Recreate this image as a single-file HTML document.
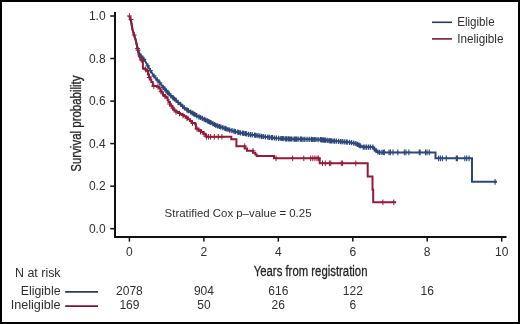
<!DOCTYPE html>
<html><head><meta charset="utf-8"><style>
html,body{margin:0;padding:0;background:#fff;}
body{width:520px;height:324px;overflow:hidden;}
svg{display:block;will-change:transform;font-family:"Liberation Sans",sans-serif;}
</style></head><body>
<svg width="520" height="324" viewBox="0 0 520 324">
<rect x="0" y="0" width="520" height="324" fill="#fff"/>
<g fill="#303030" font-size="12"><path d="M110.2 228.7H114" stroke="#111" stroke-width="1.5"/><text x="105.6" y="232.8" text-anchor="end">0.0</text><path d="M110.2 186.2H114" stroke="#111" stroke-width="1.5"/><text x="105.6" y="190.3" text-anchor="end">0.2</text><path d="M110.2 143.6H114" stroke="#111" stroke-width="1.5"/><text x="105.6" y="147.7" text-anchor="end">0.4</text><path d="M110.2 101.1H114" stroke="#111" stroke-width="1.5"/><text x="105.6" y="105.2" text-anchor="end">0.6</text><path d="M110.2 58.5H114" stroke="#111" stroke-width="1.5"/><text x="105.6" y="62.6" text-anchor="end">0.8</text><path d="M110.2 16.0H114" stroke="#111" stroke-width="1.5"/><text x="105.6" y="20.1" text-anchor="end">1.0</text><path d="M129.4 238V241.6" stroke="#111" stroke-width="1.5"/><text x="129.4" y="256.2" text-anchor="middle">0</text><path d="M203.9 238V241.6" stroke="#111" stroke-width="1.5"/><text x="203.9" y="256.2" text-anchor="middle">2</text><path d="M278.3 238V241.6" stroke="#111" stroke-width="1.5"/><text x="278.3" y="256.2" text-anchor="middle">4</text><path d="M352.8 238V241.6" stroke="#111" stroke-width="1.5"/><text x="352.8" y="256.2" text-anchor="middle">6</text><path d="M427.2 238V241.6" stroke="#111" stroke-width="1.5"/><text x="427.2" y="256.2" text-anchor="middle">8</text><path d="M501.7 238V241.6" stroke="#111" stroke-width="1.5"/><text x="501.7" y="256.2" text-anchor="middle">10</text></g>
<path d="M115 12V237H506.5" stroke="#111" stroke-width="2" fill="none"/>
<text x="253.7" y="276.4" font-size="14" fill="#262626" stroke="#262626" stroke-width="0.3" textLength="113.8" lengthAdjust="spacingAndGlyphs">Years from registration</text>
<text transform="translate(81.3,171.7) rotate(-90)" x="0" y="0" font-size="14" fill="#262626" stroke="#262626" stroke-width="0.3" textLength="96.2" lengthAdjust="spacingAndGlyphs">Survival probability</text>
<text x="164.6" y="217.1" font-size="11.2" fill="#303030" textLength="146.9" lengthAdjust="spacingAndGlyphs">Stratified Cox p–value = 0.25</text>
<path d="M129.4 16.0L131.2 22.0L132.6 30.0L135.7 40.0L137.9 50.0L140.2 55.0L144.6 60.0L150.5 70.8L154.6 77.0L159.3 82.2L163.9 88.0L168.5 93.4L176.0 100.4L186.0 109.2L196.0 115.3L206.0 120.2L216.0 125.3L228.8 129.8L238.5 132.4L248.0 134.2L260.9 136.2L276.3 138.2L290.0 139.0L320.0 139.6L330.8 140.8L348.9 142.2L355.4 143.4L359.0 145.2L362.1 147.1L372.9 147.1L375.0 149.7L378.3 152.4L435.5 152.4V158.3H472V181.8H497" stroke="#2b4879" stroke-width="2" fill="none" stroke-linejoin="miter"/>
<path d="M138.0 47.6v5.2M135.6 50.2h4.8M141.1 53.5v5.2M138.7 56.1h4.8M143.9 56.7v5.2M141.5 59.3h4.8M147.8 63.2v5.2M145.4 65.8h4.8M150.4 68.0v5.2M148.0 70.6h4.8M154.0 73.4v5.2M151.6 76.0h4.8M157.2 77.3v5.2M154.8 79.9h4.8M159.8 80.2v5.2M157.4 82.8h4.8M163.3 84.7v5.2M160.9 87.3h4.8M164.6 86.2v5.2M162.2 88.8h4.8M166.4 88.3v5.2M164.0 90.9h4.8M167.7 89.8v5.2M165.3 92.4h4.8M169.0 91.3v5.2M166.6 93.9h4.8M170.8 93.0v5.2M168.4 95.6h4.8M173.2 95.2v5.2M170.8 97.8h4.8M174.5 96.4v5.2M172.1 99.0h4.8M176.1 97.8v5.2M173.7 100.4h4.8M178.1 99.7v5.2M175.7 102.3h4.8M180.7 101.9v5.2M178.3 104.5h4.8M182.7 103.7v5.2M180.3 106.3h4.8M184.4 105.2v5.2M182.0 107.8h4.8M187.0 107.2v5.2M184.6 109.8h4.8M188.3 108.0v5.2M185.9 110.6h4.8M190.7 109.4v5.2M188.3 112.0h4.8M192.3 110.4v5.2M189.9 113.0h4.8M193.7 111.3v5.2M191.3 113.9h4.8M195.0 112.1v5.2M192.6 114.7h4.8M196.7 113.0v5.2M194.3 115.6h4.8M199.0 114.2v5.2M196.6 116.8h4.8M200.5 114.9v5.2M198.1 117.5h4.8M202.3 115.8v5.2M199.9 118.4h4.8M204.2 116.7v5.2M201.8 119.3h4.8M205.7 117.4v5.2M203.3 120.0h4.8M207.5 118.3v5.2M205.1 120.9h4.8M208.5 118.9v5.2M206.1 121.5h4.8M209.6 119.4v5.2M207.2 122.0h4.8M210.9 120.1v5.2M208.5 122.7h4.8M212.9 121.1v5.2M210.5 123.7h4.8M214.5 121.9v5.2M212.1 124.5h4.8M215.9 122.7v5.2M213.5 125.3h4.8M217.7 123.3v5.2M215.3 125.9h4.8M219.4 123.9v5.2M217.0 126.5h4.8M220.8 124.4v5.2M218.4 127.0h4.8M222.9 125.1v5.2M220.5 127.7h4.8M224.9 125.8v5.2M222.5 128.4h4.8M226.2 126.3v5.2M223.8 128.9h4.8M228.0 126.9v5.2M225.6 129.5h4.8M229.7 127.5v5.2M227.3 130.1h4.8M232.0 128.1v5.2M229.6 130.7h4.8M234.0 128.6v5.2M231.6 131.2h4.8M235.4 129.0v5.2M233.0 131.6h4.8M237.8 129.6v5.2M235.4 132.2h4.8M238.9 129.9v5.2M236.5 132.5h4.8M240.5 130.2v5.2M238.1 132.8h4.8M242.6 130.6v5.2M240.2 133.2h4.8M243.8 130.8v5.2M241.4 133.4h4.8M245.5 131.1v5.2M243.1 133.7h4.8M246.5 131.3v5.2M244.1 133.9h4.8M248.5 131.7v5.2M246.1 134.3h4.8M250.5 132.0v5.2M248.1 134.6h4.8M252.3 132.3v5.2M249.9 134.9h4.8M254.6 132.6v5.2M252.2 135.2h4.8M256.0 132.8v5.2M253.6 135.4h4.8M258.0 133.1v5.2M255.6 135.7h4.8M259.8 133.4v5.2M257.4 136.0h4.8M261.6 133.7v5.2M259.2 136.3h4.8M263.3 133.9v5.2M260.9 136.5h4.8M265.4 134.2v5.2M263.0 136.8h4.8M267.8 134.5v5.2M265.4 137.1h4.8M269.4 134.7v5.2M267.0 137.3h4.8M271.4 135.0v5.2M269.0 137.6h4.8M272.4 135.1v5.2M270.0 137.7h4.8M274.4 135.4v5.2M272.0 138.0h4.8M276.3 135.6v5.2M273.9 138.2h4.8M278.7 135.7v5.2M276.3 138.3h4.8M280.9 135.9v5.2M278.5 138.5h4.8M282.3 135.9v5.2M279.9 138.5h4.8M283.8 136.0v5.2M281.4 138.6h4.8M285.7 136.2v5.2M283.3 138.8h4.8M286.8 136.2v5.2M284.4 138.8h4.8M288.4 136.3v5.2M286.0 138.9h4.8M289.7 136.4v5.2M287.3 139.0h4.8M290.8 136.4v5.2M288.4 139.0h4.8M291.9 136.4v5.2M289.5 139.0h4.8M294.0 136.5v5.2M291.6 139.1h4.8M295.2 136.5v5.2M292.8 139.1h4.8M296.5 136.5v5.2M294.1 139.1h4.8M298.1 136.6v5.2M295.7 139.2h4.8M300.3 136.6v5.2M297.9 139.2h4.8M301.4 136.6v5.2M299.0 139.2h4.8M303.0 136.7v5.2M300.6 139.3h4.8M304.8 136.7v5.2M302.4 139.3h4.8M307.0 136.7v5.2M304.6 139.3h4.8M309.2 136.8v5.2M306.8 139.4h4.8M311.4 136.8v5.2M309.0 139.4h4.8M312.8 136.9v5.2M310.4 139.5h4.8M314.3 136.9v5.2M311.9 139.5h4.8M315.9 136.9v5.2M313.5 139.5h4.8M318.1 137.0v5.2M315.7 139.6h4.8M320.4 137.0v5.2M318.0 139.6h4.8M321.6 137.2v5.2M319.2 139.8h4.8M322.9 137.3v5.2M320.5 139.9h4.8M324.2 137.5v5.2M321.8 140.1h4.8M325.5 137.6v5.2M323.1 140.2h4.8M327.2 137.8v5.2M324.8 140.4h4.8M329.0 138.0v5.2M326.6 140.6h4.8M330.4 138.2v5.2M328.0 140.8h4.8M331.4 138.2v5.2M329.0 140.8h4.8M333.0 138.4v5.2M330.6 141.0h4.8M334.5 138.5v5.2M332.1 141.1h4.8M336.3 138.6v5.2M333.9 141.2h4.8M338.6 138.8v5.2M336.2 141.4h4.8M340.6 139.0v5.2M338.2 141.6h4.8M342.3 139.1v5.2M339.9 141.7h4.8M344.2 139.2v5.2M341.8 141.8h4.8M346.1 139.4v5.2M343.7 142.0h4.8M347.2 139.5v5.2M344.8 142.1h4.8M349.5 139.7v5.2M347.1 142.3h4.8M351.6 140.1v5.2M349.2 142.7h4.8M353.8 140.5v5.2M351.4 143.1h4.8M355.9 141.1v5.2M353.5 143.7h4.8M357.5 141.8v5.2M355.1 144.4h4.8M359.0 142.6v5.2M356.6 145.2h4.8M360.2 143.3v5.2M357.8 145.9h4.8M363.3 144.5v5.2M360.9 147.1h4.8M364.9 144.5v5.2M362.5 147.1h4.8M366.6 144.5v5.2M364.2 147.1h4.8M368.6 144.5v5.2M366.2 147.1h4.8M370.5 144.5v5.2M368.1 147.1h4.8M372.9 144.5v5.2M370.5 147.1h4.8M374.5 146.5v5.2M372.1 149.1h4.8M376.0 147.9v5.2M373.6 150.5h4.8M377.9 149.4v5.2M375.5 152.0h4.8M379.6 149.8v5.2M377.2 152.4h4.8M382.0 149.8v5.2M379.6 152.4h4.8M383.6 149.8v5.2M381.2 152.4h4.8" stroke="#2b4879" stroke-width="1.30" fill="none"/>
<path d="M384.3 149.5v5.8M382.8 152.4h3.0M389.0 149.5v5.8M387.5 152.4h3.0M390.4 149.5v5.8M388.9 152.4h3.0M393.0 149.5v5.8M391.5 152.4h3.0M397.8 149.5v5.8M396.3 152.4h3.0M404.3 149.5v5.8M402.8 152.4h3.0M405.9 149.5v5.8M404.4 152.4h3.0M408.9 149.5v5.8M407.4 152.4h3.0M419.3 149.5v5.8M417.8 152.4h3.0M420.1 149.5v5.8M418.6 152.4h3.0M425.5 149.5v5.8M424.0 152.4h3.0M427.0 149.5v5.8M425.5 152.4h3.0M429.3 149.5v5.8M427.8 152.4h3.0M438.6 155.4v5.8M437.1 158.3h3.0M440.4 155.4v5.8M438.9 158.3h3.0M442.4 155.4v5.8M440.9 158.3h3.0M446.3 155.4v5.8M444.8 158.3h3.0M456.3 155.4v5.8M454.8 158.3h3.0M457.4 155.4v5.8M455.9 158.3h3.0M464.8 155.4v5.8M463.3 158.3h3.0M466.7 155.4v5.8M465.2 158.3h3.0M469.1 155.4v5.8M467.6 158.3h3.0M495.1 178.9v5.8M493.6 181.8h3.0" stroke="#2b4879" stroke-width="1.10" fill="none"/>
<path d="M129.4 16.0L131.2 22.0L132.6 30.0L135.7 40.0L137.9 50.0L138.8 56.0L141.6 60.6H142.9V68.5H145.3V69.6H147.1V71H148V74.5H149V77.3H150.2V79.5H151.3V82H152.8V86H157.1V86.8H159.3V88.5H160.5V91H161.6V92.5H163V95H165V96.5H166.5V97.8H167.6V100H168.5V102H170V104.5H171.2V106H172.3V107.8H173.5V109.5H174.5V110.8H176.5V112H178V113H180V114H182V115H184V116.3H186V117.6H188V119.3H189.9V121H191.9V123H195.2V124.2H195.9V128.5H198.5V130.3H201.1V132H203.4V133.8H205.6V135.6H206.5V136.8H231.3V139.2H236.4V146.2H244.7V148.5H247V150.8H253V152.7H255.3V154.5H256.7V156H274V158.3H319.7V163.3H367.7V176.5H372.5V189.7H373.2V202.3H396" stroke="#931a38" stroke-width="2" fill="none"/>
<path d="M129.4 13.2v5.6M127.0 16.0h4.8M131.0 16.7v5.6M128.6 19.5h4.8M134.2 32.2v5.6M131.8 35.0h4.8M137.5 45.7v5.6M135.1 48.5h4.8M141.2 57.2v5.6M138.8 60.0h4.8M145.6 66.8v5.6M143.2 69.6h4.8M149.2 74.7v5.6M146.8 77.5h4.8M153.8 83.4v5.6M151.4 86.2h4.8M158.0 84.0v5.6M155.6 86.8h4.8M161.0 89.0v5.6M158.6 91.8h4.8M165.0 93.7v5.6M162.6 96.5h4.8M169.5 101.2v5.6M167.1 104.0h4.8M172.8 105.2v5.6M170.4 108.0h4.8M176.0 109.2v5.6M173.6 112.0h4.8M179.5 110.7v5.6M177.1 113.5h4.8M183.0 112.7v5.6M180.6 115.5h4.8M187.0 115.5v5.6M184.6 118.3h4.8M192.5 120.2v5.6M190.1 123.0h4.8M197.0 126.2v5.6M194.6 129.0h4.8M200.5 128.8v5.6M198.1 131.6h4.8M204.0 131.2v5.6M201.6 134.0h4.8M206.4 134.0v5.6M204.0 136.8h4.8M208.6 134.0v5.6M206.2 136.8h4.8M210.6 134.0v5.6M208.2 136.8h4.8M214.3 134.0v5.6M211.9 136.8h4.8M218.3 134.0v5.6M215.9 136.8h4.8M221.9 134.0v5.6M219.5 136.8h4.8M244.7 143.4v5.6M242.3 146.2h4.8M253.0 148.0v5.6M250.6 150.8h4.8M276.0 155.5v5.6M273.6 158.3h4.8M292.6 155.5v5.6M290.2 158.3h4.8M303.8 155.5v5.6M301.4 158.3h4.8M310.7 155.5v5.6M308.3 158.3h4.8M312.8 155.5v5.6M310.4 158.3h4.8M314.9 155.5v5.6M312.5 158.3h4.8M317.0 155.5v5.6M314.6 158.3h4.8M318.3 155.5v5.6M315.9 158.3h4.8M322.5 160.5v5.6M320.1 163.3h4.8M325.3 160.5v5.6M322.9 163.3h4.8M329.4 160.5v5.6M327.0 163.3h4.8M330.8 160.5v5.6M328.4 163.3h4.8M341.3 160.5v5.6M338.9 163.3h4.8M342.6 160.5v5.6M340.2 163.3h4.8M355.8 160.5v5.6M353.4 163.3h4.8M382.9 199.5v5.6M380.5 202.3h4.8M393.8 199.5v5.6M391.4 202.3h4.8" stroke="#931a38" stroke-width="1.00" fill="none"/>
<path d="M432 22.3H452" stroke="#2b3a5c" stroke-width="1.6"/>
<path d="M432 38.9H452" stroke="#74193a" stroke-width="1.6"/>
<g font-size="12" fill="#303030">
<text x="457.2" y="25.7" textLength="37.4" lengthAdjust="spacingAndGlyphs">Eligible</text>
<text x="457.2" y="42.6" textLength="46.3" lengthAdjust="spacingAndGlyphs">Ineligible</text>
<text x="15" y="276.8" textLength="45.6" lengthAdjust="spacingAndGlyphs">N at risk</text>
<text x="20.8" y="294.5" textLength="39.8" lengthAdjust="spacingAndGlyphs">Eligible</text>
<text x="10.7" y="308.6" textLength="49.9" lengthAdjust="spacingAndGlyphs">Ineligible</text>
<text x="129.4" y="294.5" text-anchor="middle">2078</text><text x="129.4" y="308.7" text-anchor="middle">169</text><text x="203.9" y="294.5" text-anchor="middle">904</text><text x="203.9" y="308.7" text-anchor="middle">50</text><text x="278.3" y="294.5" text-anchor="middle">616</text><text x="278.3" y="308.7" text-anchor="middle">26</text><text x="352.8" y="294.5" text-anchor="middle">122</text><text x="352.8" y="308.7" text-anchor="middle">6</text><text x="427.2" y="294.5" text-anchor="middle">16</text>
</g>
<path d="M65.2 291.9H98" stroke="#2b3a5c" stroke-width="1.8"/>
<path d="M65.2 306.1H98" stroke="#74193a" stroke-width="1.8"/>
<rect x="1" y="1" width="518" height="322" fill="none" stroke="#000" stroke-width="2"/>
</svg>
</body></html>
